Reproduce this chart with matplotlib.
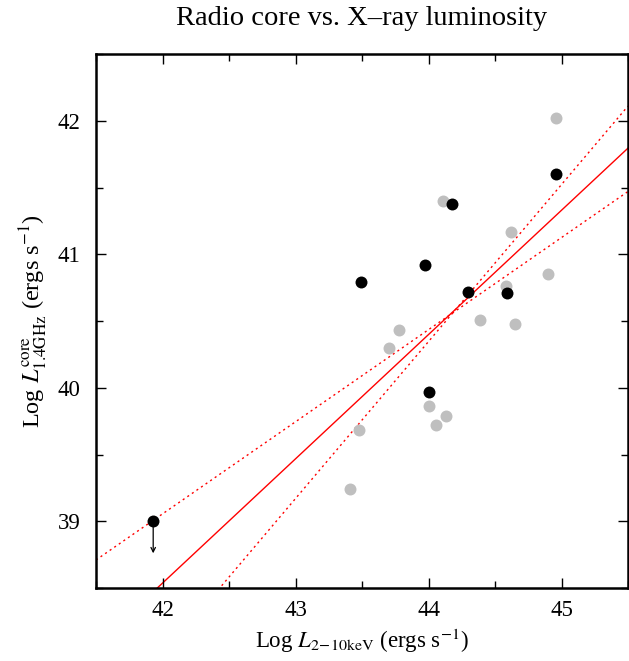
import numpy as np
import matplotlib
matplotlib.use('Agg')
import matplotlib.pyplot as plt

plt.rcParams['font.family'] = ['Liberation Serif', 'DejaVu Serif']
plt.rcParams['mathtext.fontset'] = 'stix'

# grey sample (log Lx, log Lcore)
grey_x = [44.96, 44.11, 44.62, 44.90, 44.58, 44.39, 44.65, 43.78, 43.70,
          44.00, 44.13, 44.06, 43.48, 43.41]
grey_y = [42.02, 41.40, 41.17, 40.85, 40.76, 40.51, 40.48, 40.43, 40.30,
          39.86, 39.79, 39.72, 39.68, 39.24]

# black sample
black_x = [44.96, 44.18, 43.97, 43.49, 44.30, 44.59, 44.00]
black_y = [41.60, 41.38, 40.92, 40.79, 40.72, 40.71, 39.97]

# upper limit
lim_x = [41.93]
lim_y = [39.00]

# fit and bounds: y = y_ref + slope * (x - x_ref)
x_ref = 45.5
fit = (41.795, 0.931)
upper = (42.11, 1.176)
lower = (41.47, 0.69)

fig = plt.figure(figsize=(6.29, 6.61), dpi=100)
ax = fig.add_axes([96/629, 73/661, 532/629, 534/661])

xx = np.array([41.5, 45.5])
ax.plot(xx, fit[0] + fit[1]*(xx - x_ref), color='red', lw=1.0, zorder=1)
ax.plot(xx, upper[0] + upper[1]*(xx - x_ref), color='red', lw=1.0, ls=(0, (1.5, 2.5)), zorder=1)
ax.plot(xx, lower[0] + lower[1]*(xx - x_ref), color='red', lw=1.0, ls=(0, (1.5, 2.5)), zorder=1)

ax.plot(grey_x, grey_y, 'o', color='#bfbfbf', ms=8.6, mec='none', zorder=2)
ax.plot(black_x, black_y, 'o', color='black', ms=8.6, mec='none', zorder=3)
ax.plot(lim_x, lim_y, 'o', color='black', ms=8.6, mec='none', zorder=3)
for x, y in zip(lim_x, lim_y):
    ax.annotate('', xy=(x, y - 0.24), xytext=(x, y),
                arrowprops=dict(arrowstyle='->', color='black', lw=0.9,
                                mutation_scale=8, shrinkA=0, shrinkB=0))

ax.set_xlim(41.5, 45.5)
ax.set_ylim(38.5, 42.5)
ax.set_xticks([42, 43, 44, 45])
ax.set_yticks([39, 40, 41, 42])
ax.set_xticks(np.arange(41.5, 45.6, 0.5), minor=True)
ax.set_yticks(np.arange(38.5, 42.6, 0.5), minor=True)
ax.tick_params(which='both', direction='in', top=True, right=True, labelsize=16.5)
ax.tick_params(axis='x', pad=9)
ax.tick_params(axis='y', pad=11)
ax.tick_params(which='major', length=7, width=1)
ax.tick_params(which='minor', length=5, width=1)
for s in ax.spines.values():
    s.set_linewidth(1.8)

ax.set_xlabel(r'Log $L_{\rm 2\!-\!10keV}$ (ergs s$^{-1}$)', fontsize=16.5, labelpad=4)
ax.set_ylabel(r'Log $L^{\rm core}_{\rm 1.4GHz}$ (ergs s$^{-1}$)', fontsize=17.5, labelpad=6)
ax.set_title('Radio core vs. X\u2013ray luminosity', fontsize=20.5, pad=21)

fig.savefig('out.png', dpi=100)
